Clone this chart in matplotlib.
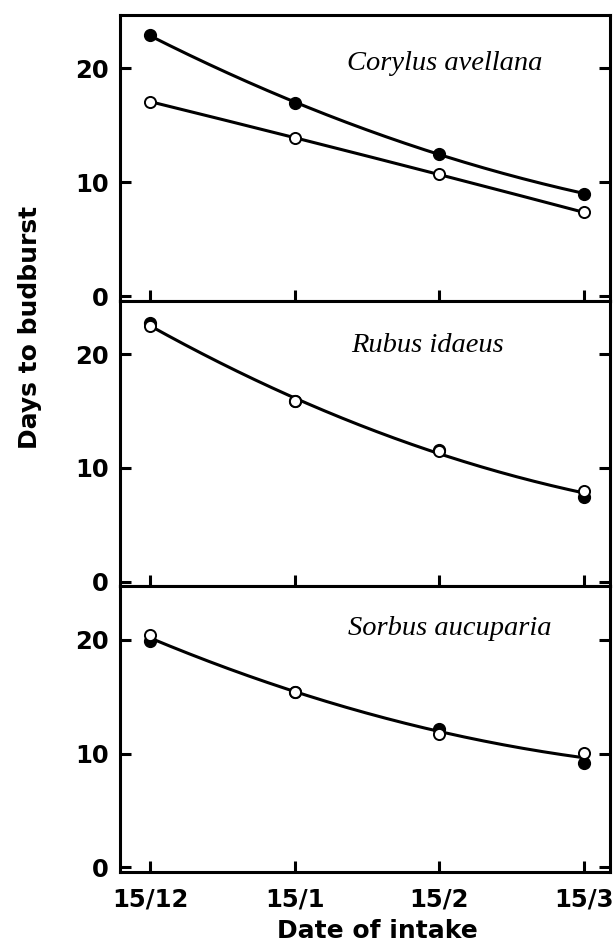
import numpy as np
import matplotlib
matplotlib.use("Agg")
import matplotlib.pyplot as plt

# ---- data ----
dates = ["15/12", "15/1", "15/2", "15/3"]
species = ["Corylus avellana", "Rubus idaeus", "Sorbus aucuparia"]

corylus_filled = [22.9, 17.0, 12.5, 9.0]
corylus_open = [17.1, 13.9, 10.7, 7.35]
rubus_filled = [22.7, 15.85, 11.6, 7.45]
rubus_open = [22.5, 15.85, 11.5, 7.95]
sorbus_filled = [19.9, 15.4, 12.2, 9.2]
sorbus_open = [20.45, 15.45, 11.75, 10.05]

yticks = [0, 10, 20]

FW, FH = 614, 948
fig = plt.figure(figsize=(FW / 100, FH / 100), dpi=100)

left = 120 / FW
width = 490 / FW
bounds_px = [15, 300.7, 586.3, 872]

x = np.arange(len(dates))
xf = np.linspace(0, len(dates) - 1, 200)

panels = [
    (corylus_filled, corylus_open, True, (0.663, 0.807)),
    (rubus_filled, rubus_open, False, (0.627, 0.821)),
    (sorbus_filled, sorbus_open, False, (0.673, 0.830)),
]

tick_font = dict(family="DejaVu Sans", weight="bold", size=17.5)

axes = []
for i, (filled, opn, separate, (tx, ty)) in enumerate(panels):
    top_px, bot_px = bounds_px[i], bounds_px[i + 1]
    ax = fig.add_axes([left, 1 - bot_px / FH, width, (bot_px - top_px) / FH])
    axes.append(ax)

    if separate:
        for series in (filled, opn):
            c = np.polyfit(x, series, 2)
            ax.plot(xf, np.polyval(c, xf), color="black", lw=2.2, zorder=2)
    else:
        mean = (np.array(filled) + np.array(opn)) / 2
        c = np.polyfit(x, mean, 2)
        ax.plot(xf, np.polyval(c, xf), color="black", lw=2.2, zorder=2)

    ax.plot(x, filled, "o", color="black", markersize=8.5, zorder=3)
    ax.plot(x, opn, "o", markerfacecolor="white", markeredgecolor="black",
            markersize=8, markeredgewidth=1.4, zorder=4)

    ax.text(tx, ty, species[i], transform=ax.transAxes, ha="center",
            va="baseline", family="Liberation Serif", style="italic",
            fontsize=20.5)

    ax.set_xlim(-0.207, 3.179)
    ax.set_ylim(-0.4, 24.7)
    ax.set_yticks(yticks)
    ax.set_yticklabels([str(v) for v in yticks], fontdict=tick_font)
    ax.set_xticks(x)
    ax.tick_params(axis="y", direction="in", length=8, width=2.2,
                   left=True, right=True, pad=8)
    ax.tick_params(axis="x", direction="in", length=8, width=2.2,
                   bottom=True, top=False, pad=11)
    for s in ax.spines.values():
        s.set_linewidth(2.2)
    if i < 2:
        ax.set_xticklabels([])
    else:
        ax.set_xticklabels(dates, fontdict=tick_font)

fig.text(30 / FW, 1 - 327 / FH, "Days to budburst", rotation=90,
         ha="center", va="center", family="DejaVu Sans", weight="bold",
         fontsize=18)
fig.text(377 / FW, 1 - 931 / FH, "Date of intake", ha="center",
         va="center", family="DejaVu Sans", weight="bold", fontsize=18)

fig.savefig("out.png", dpi=100)
